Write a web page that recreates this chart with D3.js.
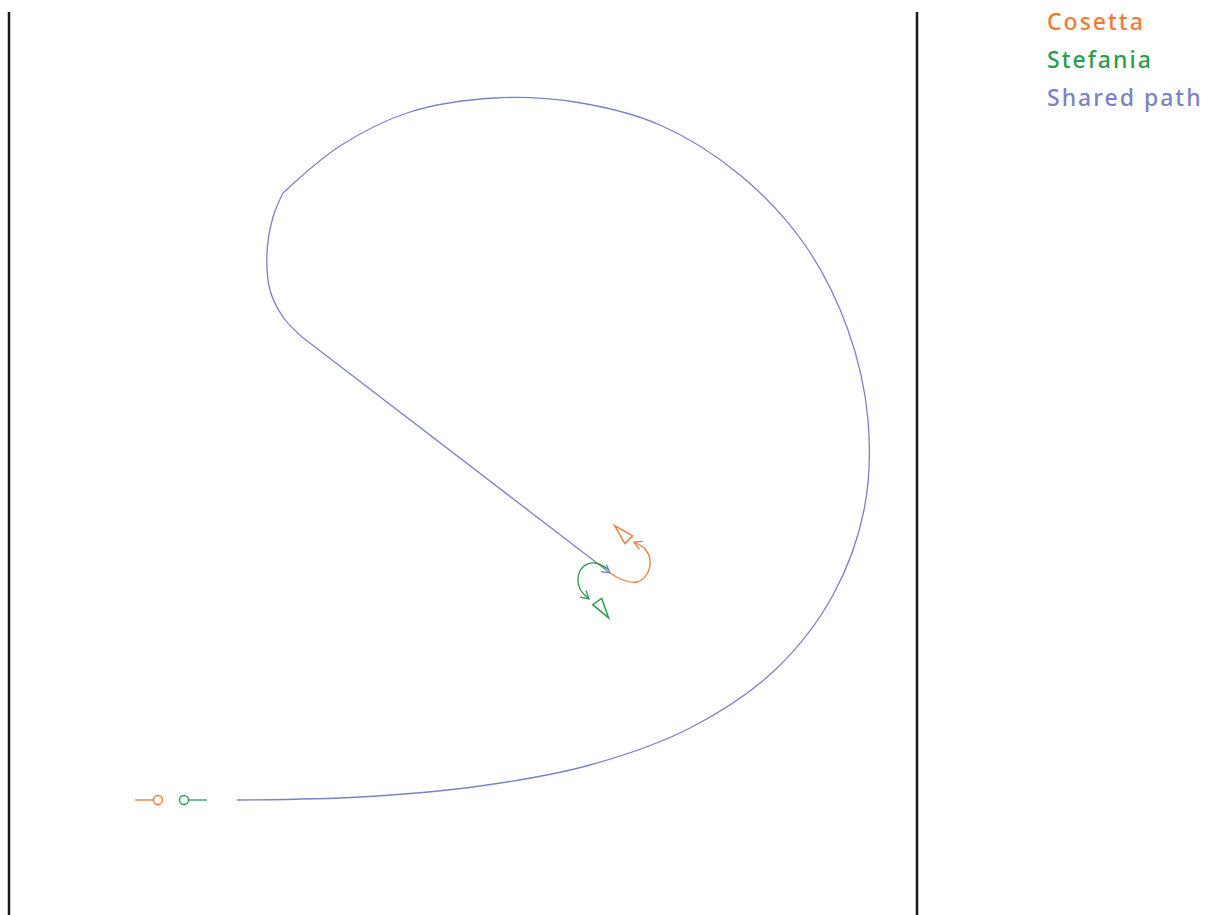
<!DOCTYPE html>
<html>
<head>
<meta charset="utf-8">
<script src="https://cdn.jsdelivr.net/npm/d3@7"></script>
<style>
  html, body { margin: 0; padding: 0; background: #fff; }
  svg { display: block; }
</style>
</head>
<body>
<svg id="chart" width="1216" height="915"></svg>
<script>
// ground coordinates (x to the right, y upwards)
const sharedOuter = [
    [228, 115], [351, 118], [471, 129], [581, 150], [681, 187], [766, 245],
    [824, 320], [855, 405], [859, 495], [839, 585], [796, 670], [731, 740],
    [651, 790], [566, 813], [486, 817], [401, 803], [331, 769], [274, 722]
];
const sharedLoop = [[274, 722], [264, 698], [258, 662], [261, 625], [274, 598], [293, 578]];
const sharedStraight = [[293, 578], [601, 342]];

const cosettaEnd = [[601, 342], [614, 335], [628, 333], [638, 341], [641, 355], [636, 366], [625, 373]];
const stefaniaEnd = [[599, 346], [586, 352], [574, 348], [569, 337], [571, 326], [580, 316]];

// start: tail segment and the circle
const starts = [
    { who: 'Cosetta', tail: [126, 144], dot: [149, 115] },
    { who: 'Stefania', tail: [180, 198], dot: [175, 115] }
];
// finish triangles: centroid and heading (degrees on screen)
const finishes = [
    { who: 'Cosetta', at: [615, 380], heading: -135 },
    { who: 'Stefania', at: [592, 308], heading: 55 }
];

const legendNames = ['Cosetta', 'Stefania', 'Shared path'];
const colors = { 'Cosetta': '#ef7b36', 'Stefania': '#2a9c4b', 'Shared path': '#7b82c4' };

const svg = d3.select('#chart');

let x = d3.scaleLinear().domain([0, 908]).range([9, 917]);
let y = d3.scaleLinear().domain([0, 903]).range([915, 12]);

// borders of the ground
svg.selectAll('line.border')
    .data([0, 908])
    .join('line')
    .attr('class', 'border')
    .attr('x1', d => x(d))
    .attr('x2', d => x(d))
    .attr('y1', y(903))
    .attr('y2', y(0))
    .style('stroke', '#1a1a1a')
    .style('stroke-width', 2.5);

// arrow heads
let defs = svg.append('defs');
for (let name of legendNames) {
    defs.append('marker')
        .attr('id', 'arrow-' + name.replace(' ', ''))
        .attr('viewBox', '-10 -6 12 12')
        .attr('refX', 0)
        .attr('refY', 0)
        .attr('markerWidth', 12)
        .attr('markerHeight', 12)
        .attr('markerUnits', 'userSpaceOnUse')
        .attr('orient', 'auto')
        .append('path')
        .attr('d', 'M-8,-4.5 L0,0 L-8,4.5')
        .style('fill', 'none')
        .style('stroke', colors[name])
        .style('stroke-width', 1.3);
}

let smooth = d3.line().x(d => x(d[0])).y(d => y(d[1])).curve(d3.curveCatmullRom.alpha(0.5));
let straight = d3.line().x(d => x(d[0])).y(d => y(d[1]));

let shared = colors['Shared path'];
svg.append('path').attr('d', smooth(sharedOuter))
    .style('fill', 'none').style('stroke', shared).style('stroke-width', 1.3);
svg.append('path').attr('d', smooth(sharedLoop))
    .style('fill', 'none').style('stroke', shared).style('stroke-width', 1.3);
svg.append('path').attr('d', straight(sharedStraight))
    .style('fill', 'none').style('stroke', shared).style('stroke-width', 1.3)
    .attr('marker-end', 'url(#arrow-Sharedpath)');

// the two branches after the shared path
let branches = [
    { who: 'Cosetta', pts: cosettaEnd },
    { who: 'Stefania', pts: stefaniaEnd }
];
svg.selectAll('path.branch')
    .data(branches)
    .join('path')
    .attr('class', 'branch')
    .attr('d', d => smooth(d.pts))
    .attr('marker-end', d => 'url(#arrow-' + d.who + ')')
    .style('fill', 'none')
    .style('stroke', d => colors[d.who])
    .style('stroke-width', 1.3);

// starting tails and dots
svg.selectAll('line.tail')
    .data(starts)
    .join('line')
    .attr('class', 'tail')
    .attr('x1', d => x(d.tail[0]))
    .attr('x2', d => x(d.tail[1]))
    .attr('y1', d => y(d.dot[1]))
    .attr('y2', d => y(d.dot[1]))
    .style('stroke', d => colors[d.who])
    .style('stroke-width', 1.3);

svg.selectAll('circle.start')
    .data(starts)
    .join('circle')
    .attr('class', 'start')
    .attr('cx', d => x(d.dot[0]))
    .attr('cy', d => y(d.dot[1]))
    .attr('r', 4.5)
    .style('fill', '#fff')
    .style('stroke', d => colors[d.who])
    .style('stroke-width', 1.3);

// finish triangles, apex forward
const triH = 20, triB = 11;
svg.selectAll('path.finish')
    .data(finishes)
    .join('path')
    .attr('class', 'finish')
    .attr('d', `M${triH * 2 / 3},0 L${-triH / 3},${triB / 2} L${-triH / 3},${-triB / 2} Z`)
    .attr('transform', d => `translate(${x(d.at[0])},${y(d.at[1])}) rotate(${d.heading})`)
    .style('fill', 'none')
    .style('stroke', d => colors[d.who])
    .style('stroke-width', 1.5)
    .style('stroke-linejoin', 'miter');

// legend
svg.selectAll('text.legend')
    .data(legendNames)
    .join('text')
    .attr('class', 'legend')
    .attr('x', 1047)
    .attr('y', (d, i) => 30 + i * 38)
    .text(d => d)
    .style('fill', d => colors[d])
    .style('font-family', '"Noto Sans", "Open Sans", sans-serif')
    .style('font-weight', 500)
    .style('font-size', '23px')
    .style('letter-spacing', '2px');
</script>
</body>
</html>
